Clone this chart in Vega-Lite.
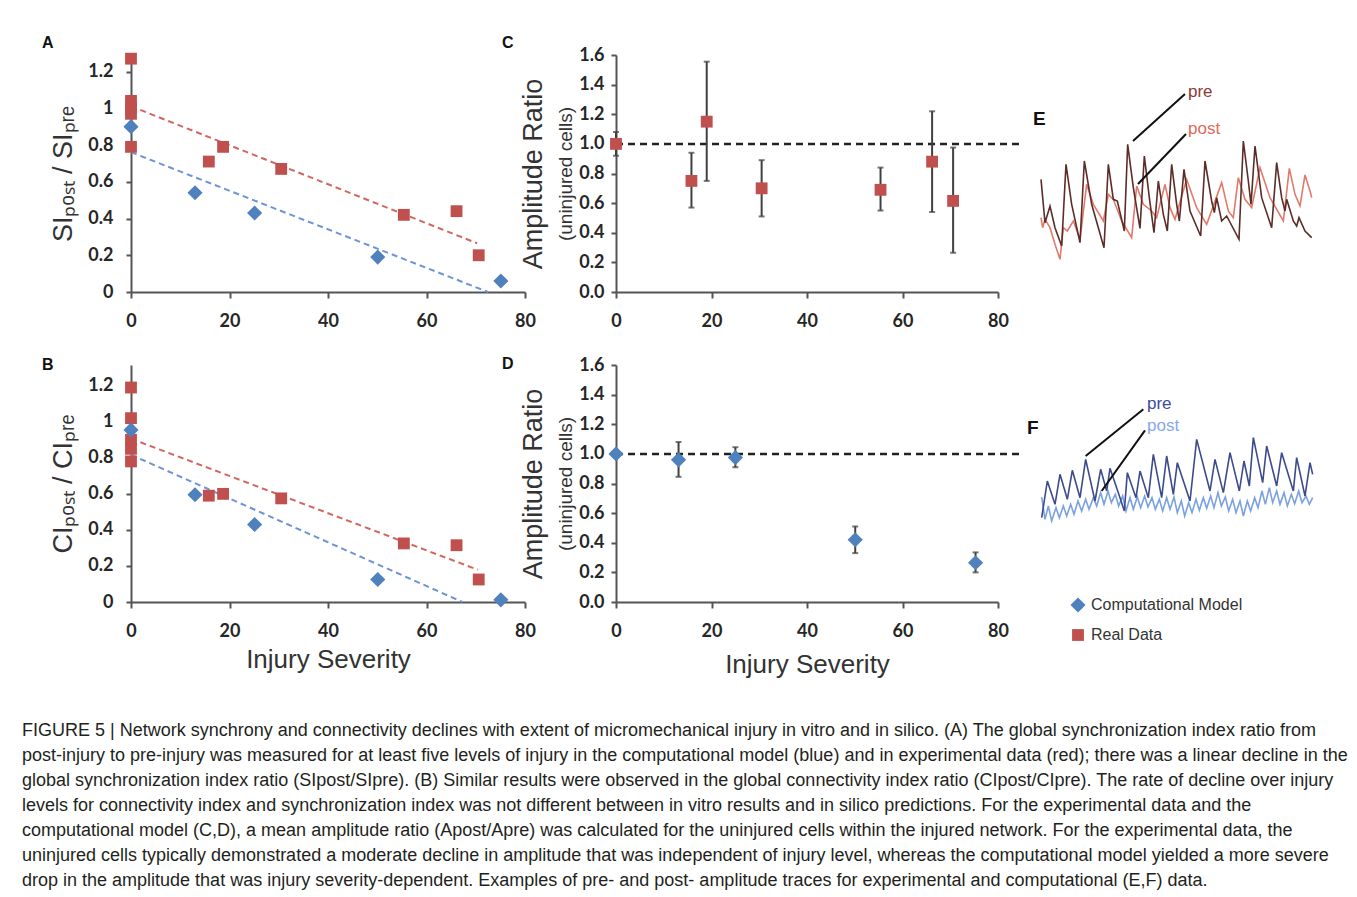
{
  "$schema": "https://vega.github.io/schema/vega-lite/v6.json",
  "background": "white",
  "padding": {"left": 22, "top": 34, "right": 5, "bottom": 5},
  "columns": 3,
  "spacing": {"row": 73, "column": 91},
  "bounds": "flush",
  "align": "each",
  "title": {
    "text": [
      "FIGURE 5 | Network synchrony and connectivity declines with extent of micromechanical injury in vitro and in silico. (A) The global synchronization index ratio from",
      "post-injury to pre-injury was measured for at least five levels of injury in the computational model (blue) and in experimental data (red); there was a linear decline in the",
      "global synchronization index ratio (SIpost/SIpre). (B) Similar results were observed in the global connectivity index ratio (CIpost/CIpre). The rate of decline over injury",
      "levels for connectivity index and synchronization index was not different between in vitro results and in silico predictions. For the experimental data and the",
      "computational model (C,D), a mean amplitude ratio (Apost/Apre) was calculated for the uninjured cells within the injured network. For the experimental data, the",
      "uninjured cells typically demonstrated a moderate decline in amplitude that was independent of injury level, whereas the computational model yielded a more severe",
      "drop in the amplitude that was injury severity-dependent. Examples of pre- and post- amplitude traces for experimental and computational (E,F) data."
    ],
    "orient": "bottom",
    "anchor": "start",
    "frame": "group",
    "dx": -109,
    "offset": 45,
    "baseline": "top",
    "font": "Liberation Sans",
    "fontSize": 18,
    "fontWeight": "normal",
    "lineHeight": 25,
    "color": "#231f20"
  },
  "datasets": {
    "si": [
      {"injury": 0, "ratio": 1.27, "series": "Real Data"},
      {"injury": 0, "ratio": 1.04, "series": "Real Data"},
      {"injury": 0, "ratio": 1.0, "series": "Real Data"},
      {"injury": 0, "ratio": 0.97, "series": "Real Data"},
      {"injury": 0, "ratio": 0.79, "series": "Real Data"},
      {"injury": 15.8, "ratio": 0.71, "series": "Real Data"},
      {"injury": 18.7, "ratio": 0.79, "series": "Real Data"},
      {"injury": 30.5, "ratio": 0.67, "series": "Real Data"},
      {"injury": 55.4, "ratio": 0.42, "series": "Real Data"},
      {"injury": 66.1, "ratio": 0.44, "series": "Real Data"},
      {"injury": 70.6, "ratio": 0.2, "series": "Real Data"},
      {"injury": 0, "ratio": 0.9, "series": "Computational Model"},
      {"injury": 13, "ratio": 0.54, "series": "Computational Model"},
      {"injury": 25.1, "ratio": 0.43, "series": "Computational Model"},
      {"injury": 50.1, "ratio": 0.19, "series": "Computational Model"},
      {"injury": 75.1, "ratio": 0.06, "series": "Computational Model"}
    ],
    "si_trend": [
      {"injury": 0, "ratio": 1.011, "series": "Real Data"},
      {"injury": 70.3, "ratio": 0.265, "series": "Real Data"},
      {"injury": 0, "ratio": 0.761, "series": "Computational Model"},
      {"injury": 72.5, "ratio": 0, "series": "Computational Model"}
    ],
    "ci": [
      {"injury": 0, "ratio": 1.19, "series": "Real Data"},
      {"injury": 0, "ratio": 1.02, "series": "Real Data"},
      {"injury": 0, "ratio": 0.9, "series": "Real Data"},
      {"injury": 0, "ratio": 0.85, "series": "Real Data"},
      {"injury": 0, "ratio": 0.78, "series": "Real Data"},
      {"injury": 15.8, "ratio": 0.59, "series": "Real Data"},
      {"injury": 18.7, "ratio": 0.6, "series": "Real Data"},
      {"injury": 30.5, "ratio": 0.575, "series": "Real Data"},
      {"injury": 55.4, "ratio": 0.325, "series": "Real Data"},
      {"injury": 66.1, "ratio": 0.315, "series": "Real Data"},
      {"injury": 70.6, "ratio": 0.125, "series": "Real Data"},
      {"injury": 0, "ratio": 0.955, "series": "Computational Model"},
      {"injury": 13, "ratio": 0.595, "series": "Computational Model"},
      {"injury": 25.1, "ratio": 0.43, "series": "Computational Model"},
      {"injury": 50.1, "ratio": 0.125, "series": "Computational Model"},
      {"injury": 75.1, "ratio": 0.012, "series": "Computational Model"}
    ],
    "ci_trend": [
      {"injury": 0, "ratio": 0.906, "series": "Real Data"},
      {"injury": 70.4, "ratio": 0.179, "series": "Real Data"},
      {"injury": 0, "ratio": 0.817, "series": "Computational Model"},
      {"injury": 67.3, "ratio": 0, "series": "Computational Model"}
    ],
    "amp_exp": [
      {"injury": 0, "ratio": 1.0, "lo": 0.92, "hi": 1.08},
      {"injury": 15.8, "ratio": 0.75, "lo": 0.57, "hi": 0.94},
      {"injury": 19, "ratio": 1.15, "lo": 0.75, "hi": 1.555},
      {"injury": 30.5, "ratio": 0.7, "lo": 0.51, "hi": 0.89},
      {"injury": 55.4, "ratio": 0.69, "lo": 0.55, "hi": 0.84},
      {"injury": 66.2, "ratio": 0.88, "lo": 0.54, "hi": 1.22},
      {"injury": 70.6, "ratio": 0.615, "lo": 0.265, "hi": 0.975}
    ],
    "amp_model": [
      {"injury": 0, "ratio": 1.0},
      {"injury": 13.1, "ratio": 0.96, "lo": 0.845, "hi": 1.08},
      {"injury": 25, "ratio": 0.975, "lo": 0.91, "hi": 1.045},
      {"injury": 50.1, "ratio": 0.42, "lo": 0.33, "hi": 0.51},
      {"injury": 75.3, "ratio": 0.265, "lo": 0.2, "hi": 0.335}
    ],
    "ref": [{"injury": 0, "injury_end": 84.5, "ratio": 1}],
    "trace_e": [
      {"t": 3.3, "amp": 3.38, "trace": "pre"}, {"t": 4.5, "amp": 2.08, "trace": "pre"}, {"t": 6.0, "amp": 2.58, "trace": "pre"},
      {"t": 7.5, "amp": 1.93, "trace": "pre"}, {"t": 9.5, "amp": 1.38, "trace": "pre"}, {"t": 10.8, "amp": 3.83, "trace": "pre"},
      {"t": 12.5, "amp": 2.63, "trace": "pre"}, {"t": 15.0, "amp": 1.48, "trace": "pre"}, {"t": 16.3, "amp": 3.93, "trace": "pre"},
      {"t": 18.5, "amp": 2.63, "trace": "pre"}, {"t": 22.2, "amp": 1.33, "trace": "pre"}, {"t": 23.5, "amp": 3.83, "trace": "pre"},
      {"t": 25.0, "amp": 2.78, "trace": "pre"}, {"t": 26.2, "amp": 2.73, "trace": "pre"}, {"t": 28.3, "amp": 1.83, "trace": "pre"},
      {"t": 29.3, "amp": 4.43, "trace": "pre"}, {"t": 31.0, "amp": 3.13, "trace": "pre"}, {"t": 33.0, "amp": 1.91, "trace": "pre"},
      {"t": 34.3, "amp": 4.08, "trace": "pre"}, {"t": 35.8, "amp": 2.83, "trace": "pre"}, {"t": 37.2, "amp": 1.78, "trace": "pre"},
      {"t": 38.5, "amp": 3.33, "trace": "pre"}, {"t": 40.0, "amp": 2.33, "trace": "pre"}, {"t": 41.2, "amp": 1.83, "trace": "pre"},
      {"t": 42.5, "amp": 3.83, "trace": "pre"}, {"t": 44.0, "amp": 2.63, "trace": "pre"}, {"t": 44.8, "amp": 2.13, "trace": "pre"},
      {"t": 46.2, "amp": 3.68, "trace": "pre"}, {"t": 48.0, "amp": 2.43, "trace": "pre"}, {"t": 51.2, "amp": 1.68, "trace": "pre"},
      {"t": 52.5, "amp": 3.93, "trace": "pre"}, {"t": 54.5, "amp": 2.73, "trace": "pre"}, {"t": 55.3, "amp": 2.38, "trace": "pre"},
      {"t": 56.0, "amp": 2.83, "trace": "pre"}, {"t": 57.5, "amp": 2.13, "trace": "pre"}, {"t": 59.0, "amp": 2.28, "trace": "pre"},
      {"t": 62.7, "amp": 1.58, "trace": "pre"}, {"t": 64.0, "amp": 4.53, "trace": "pre"}, {"t": 65.5, "amp": 3.33, "trace": "pre"},
      {"t": 66.3, "amp": 2.63, "trace": "pre"}, {"t": 67.5, "amp": 4.38, "trace": "pre"}, {"t": 69.5, "amp": 2.83, "trace": "pre"},
      {"t": 72.5, "amp": 1.93, "trace": "pre"}, {"t": 74.0, "amp": 3.88, "trace": "pre"}, {"t": 75.5, "amp": 2.83, "trace": "pre"},
      {"t": 76.5, "amp": 2.43, "trace": "pre"}, {"t": 77.0, "amp": 2.78, "trace": "pre"}, {"t": 79.0, "amp": 2.13, "trace": "pre"},
      {"t": 80.0, "amp": 1.98, "trace": "pre"}, {"t": 80.7, "amp": 2.23, "trace": "pre"}, {"t": 82.5, "amp": 1.83, "trace": "pre"},
      {"t": 84.5, "amp": 1.63, "trace": "pre"},
      {"t": 3.3, "amp": 2.23, "trace": "post"}, {"t": 3.8, "amp": 1.93, "trace": "post"}, {"t": 4.5, "amp": 2.18, "trace": "post"},
      {"t": 6.0, "amp": 1.93, "trace": "post"}, {"t": 7.5, "amp": 1.43, "trace": "post"}, {"t": 9.0, "amp": 0.98, "trace": "post"},
      {"t": 10.0, "amp": 1.93, "trace": "post"}, {"t": 11.2, "amp": 1.83, "trace": "post"}, {"t": 13.0, "amp": 2.13, "trace": "post"},
      {"t": 15.0, "amp": 1.58, "trace": "post"}, {"t": 17.0, "amp": 3.23, "trace": "post"}, {"t": 19.0, "amp": 2.63, "trace": "post"},
      {"t": 22.0, "amp": 2.13, "trace": "post"}, {"t": 23.5, "amp": 2.93, "trace": "post"}, {"t": 25.0, "amp": 2.78, "trace": "post"},
      {"t": 27.5, "amp": 2.13, "trace": "post"}, {"t": 30.5, "amp": 1.63, "trace": "post"}, {"t": 32.0, "amp": 3.18, "trace": "post"},
      {"t": 34.0, "amp": 2.63, "trace": "post"}, {"t": 36.5, "amp": 2.43, "trace": "post"}, {"t": 38.0, "amp": 2.23, "trace": "post"},
      {"t": 40.5, "amp": 3.23, "trace": "post"}, {"t": 42.0, "amp": 2.53, "trace": "post"}, {"t": 43.5, "amp": 2.18, "trace": "post"},
      {"t": 47.0, "amp": 3.38, "trace": "post"}, {"t": 50.0, "amp": 2.53, "trace": "post"}, {"t": 53.0, "amp": 2.03, "trace": "post"},
      {"t": 57.5, "amp": 3.28, "trace": "post"}, {"t": 59.5, "amp": 2.43, "trace": "post"}, {"t": 61.0, "amp": 2.23, "trace": "post"},
      {"t": 62.5, "amp": 3.43, "trace": "post"}, {"t": 64.5, "amp": 2.78, "trace": "post"}, {"t": 66.5, "amp": 2.53, "trace": "post"},
      {"t": 69.0, "amp": 3.73, "trace": "post"}, {"t": 72.0, "amp": 2.83, "trace": "post"}, {"t": 76.0, "amp": 2.13, "trace": "post"},
      {"t": 77.8, "amp": 3.71, "trace": "post"}, {"t": 79.5, "amp": 2.93, "trace": "post"}, {"t": 81.0, "amp": 2.58, "trace": "post"},
      {"t": 82.5, "amp": 3.51, "trace": "post"}, {"t": 84.0, "amp": 3.03, "trace": "post"}, {"t": 84.5, "amp": 2.83, "trace": "post"}
    ],
    "trace_f": [
      {"t": 3.5, "amp": 2.53, "trace": "pre"}, {"t": 5.2, "amp": 3.63, "trace": "pre"}, {"t": 7.5, "amp": 2.93, "trace": "pre"},
      {"t": 9.0, "amp": 3.83, "trace": "pre"}, {"t": 11.2, "amp": 3.08, "trace": "pre"}, {"t": 12.7, "amp": 3.95, "trace": "pre"},
      {"t": 15.0, "amp": 3.13, "trace": "pre"}, {"t": 16.7, "amp": 4.28, "trace": "pre"}, {"t": 19.5, "amp": 3.03, "trace": "pre"},
      {"t": 21.2, "amp": 3.98, "trace": "pre"}, {"t": 23.0, "amp": 3.33, "trace": "pre"}, {"t": 24.0, "amp": 4.01, "trace": "pre"},
      {"t": 27.0, "amp": 3.13, "trace": "pre"}, {"t": 28.3, "amp": 2.73, "trace": "pre"}, {"t": 29.2, "amp": 3.88, "trace": "pre"},
      {"t": 31.8, "amp": 3.13, "trace": "pre"}, {"t": 33.0, "amp": 3.93, "trace": "pre"}, {"t": 35.5, "amp": 3.13, "trace": "pre"},
      {"t": 37.0, "amp": 4.43, "trace": "pre"}, {"t": 39.5, "amp": 3.13, "trace": "pre"}, {"t": 41.0, "amp": 4.38, "trace": "pre"},
      {"t": 43.0, "amp": 3.23, "trace": "pre"}, {"t": 44.2, "amp": 4.18, "trace": "pre"}, {"t": 48.0, "amp": 3.03, "trace": "pre"},
      {"t": 50.0, "amp": 4.88, "trace": "pre"}, {"t": 54.0, "amp": 3.33, "trace": "pre"}, {"t": 55.5, "amp": 4.28, "trace": "pre"},
      {"t": 58.0, "amp": 3.28, "trace": "pre"}, {"t": 60.0, "amp": 4.48, "trace": "pre"}, {"t": 62.8, "amp": 3.33, "trace": "pre"},
      {"t": 64.2, "amp": 4.23, "trace": "pre"}, {"t": 65.8, "amp": 3.48, "trace": "pre"}, {"t": 67.0, "amp": 4.93, "trace": "pre"},
      {"t": 69.8, "amp": 3.58, "trace": "pre"}, {"t": 71.0, "amp": 4.68, "trace": "pre"}, {"t": 74.0, "amp": 3.48, "trace": "pre"},
      {"t": 75.5, "amp": 4.48, "trace": "pre"}, {"t": 79.0, "amp": 3.33, "trace": "pre"}, {"t": 80.0, "amp": 4.33, "trace": "pre"},
      {"t": 82.5, "amp": 3.18, "trace": "pre"}, {"t": 84.0, "amp": 4.18, "trace": "pre"}, {"t": 84.8, "amp": 3.83, "trace": "pre"},
      {"t": 3.5, "amp": 3.15, "trace": "post"}, {"t": 4.5, "amp": 2.48, "trace": "post"}, {"t": 5.5, "amp": 2.88, "trace": "post"},
      {"t": 6.5, "amp": 2.43, "trace": "post"}, {"t": 7.8, "amp": 2.83, "trace": "post"}, {"t": 8.8, "amp": 2.53, "trace": "post"},
      {"t": 10.0, "amp": 2.88, "trace": "post"}, {"t": 11.0, "amp": 2.58, "trace": "post"}, {"t": 12.2, "amp": 2.93, "trace": "post"},
      {"t": 13.2, "amp": 2.63, "trace": "post"}, {"t": 14.4, "amp": 3.03, "trace": "post"}, {"t": 15.5, "amp": 2.73, "trace": "post"},
      {"t": 16.7, "amp": 3.08, "trace": "post"}, {"t": 17.7, "amp": 2.78, "trace": "post"}, {"t": 19.0, "amp": 3.13, "trace": "post"},
      {"t": 20.0, "amp": 2.88, "trace": "post"}, {"t": 21.2, "amp": 3.28, "trace": "post"}, {"t": 22.2, "amp": 2.93, "trace": "post"},
      {"t": 23.4, "amp": 3.33, "trace": "post"}, {"t": 24.4, "amp": 2.98, "trace": "post"}, {"t": 25.6, "amp": 3.23, "trace": "post"},
      {"t": 26.6, "amp": 2.88, "trace": "post"}, {"t": 27.8, "amp": 3.18, "trace": "post"}, {"t": 28.8, "amp": 2.73, "trace": "post"},
      {"t": 30.0, "amp": 3.13, "trace": "post"}, {"t": 31.0, "amp": 2.78, "trace": "post"}, {"t": 32.2, "amp": 3.15, "trace": "post"},
      {"t": 33.2, "amp": 2.83, "trace": "post"}, {"t": 34.4, "amp": 3.18, "trace": "post"}, {"t": 35.4, "amp": 2.85, "trace": "post"},
      {"t": 36.6, "amp": 3.13, "trace": "post"}, {"t": 37.6, "amp": 2.78, "trace": "post"}, {"t": 38.8, "amp": 3.08, "trace": "post"},
      {"t": 39.8, "amp": 2.73, "trace": "post"}, {"t": 41.0, "amp": 3.13, "trace": "post"}, {"t": 42.0, "amp": 2.78, "trace": "post"},
      {"t": 43.2, "amp": 3.15, "trace": "post"}, {"t": 44.2, "amp": 2.68, "trace": "post"}, {"t": 45.4, "amp": 3.03, "trace": "post"},
      {"t": 46.4, "amp": 2.58, "trace": "post"}, {"t": 47.6, "amp": 2.98, "trace": "post"}, {"t": 48.6, "amp": 2.68, "trace": "post"},
      {"t": 49.8, "amp": 3.08, "trace": "post"}, {"t": 50.8, "amp": 2.75, "trace": "post"}, {"t": 52.0, "amp": 3.13, "trace": "post"},
      {"t": 53.0, "amp": 2.81, "trace": "post"}, {"t": 54.2, "amp": 3.18, "trace": "post"}, {"t": 55.2, "amp": 2.83, "trace": "post"},
      {"t": 56.4, "amp": 3.28, "trace": "post"}, {"t": 57.4, "amp": 2.88, "trace": "post"}, {"t": 58.6, "amp": 3.15, "trace": "post"},
      {"t": 59.6, "amp": 2.73, "trace": "post"}, {"t": 60.8, "amp": 3.08, "trace": "post"}, {"t": 61.8, "amp": 2.68, "trace": "post"},
      {"t": 63.0, "amp": 3.03, "trace": "post"}, {"t": 64.0, "amp": 2.58, "trace": "post"}, {"t": 65.2, "amp": 3.03, "trace": "post"},
      {"t": 66.2, "amp": 2.73, "trace": "post"}, {"t": 67.4, "amp": 3.13, "trace": "post"}, {"t": 68.4, "amp": 2.83, "trace": "post"},
      {"t": 69.6, "amp": 3.33, "trace": "post"}, {"t": 70.6, "amp": 2.93, "trace": "post"}, {"t": 71.8, "amp": 3.43, "trace": "post"},
      {"t": 72.8, "amp": 2.98, "trace": "post"}, {"t": 74.0, "amp": 3.33, "trace": "post"}, {"t": 75.0, "amp": 2.93, "trace": "post"},
      {"t": 76.2, "amp": 3.28, "trace": "post"}, {"t": 77.2, "amp": 2.88, "trace": "post"}, {"t": 78.4, "amp": 3.23, "trace": "post"},
      {"t": 79.4, "amp": 2.95, "trace": "post"}, {"t": 80.6, "amp": 3.33, "trace": "post"}, {"t": 81.6, "amp": 2.98, "trace": "post"},
      {"t": 82.8, "amp": 3.18, "trace": "post"}, {"t": 83.8, "amp": 2.93, "trace": "post"}, {"t": 84.8, "amp": 3.13, "trace": "post"}
    ],
    "notes_e": [
      {"t": 47.4, "amp": 6.0, "label": "pre"},
      {"t": 47.4, "amp": 4.89, "label": "post"},
      {"t": 0.9, "amp": 5.01, "label": "E"}
    ],
    "leaders_e": [
      {"t": 30.9, "amp": 4.53, "t2": 46.5, "amp2": 5.94},
      {"t": 32.4, "amp": 3.24, "t2": 46.8, "amp2": 4.74}
    ],
    "notes_f": [
      {"t": 35.1, "amp": 5.94, "label": "pre"},
      {"t": 35.1, "amp": 5.28, "label": "post"},
      {"t": -0.9, "amp": 5.04, "label": "F"}
    ],
    "leaders_f": [
      {"t": 16.7, "amp": 4.38, "t2": 34.0, "amp2": 5.78},
      {"t": 21.5, "amp": 3.33, "t2": 34.5, "amp2": 5.15}
    ]
  },
  "concat": [
    {
      "width": 394, "height": 237,
      "title": {"text": "A", "anchor": "start", "frame": "group", "dx": -89, "dy": 11, "offset": 0, "baseline": "alphabetic", "font": "Liberation Sans", "fontSize": 16, "fontWeight": "bold", "color": "#111"},
      "data": {"name": "si"},
      "encoding": {
        "x": {"field": "injury", "type": "quantitative", "scale": {"domain": [0, 80], "nice": false}, "axis": {"values": [0, 20, 40, 60, 80], "title": null, "labelPadding": 14}},
        "y": {"field": "ratio", "type": "quantitative", "scale": {"domain": [0, 1.29], "nice": false}, "axis": {"values": [0, 0.2, 0.4, 0.6, 0.8, 1, 1.2], "format": "~g", "title": "SIₚₒₛₜ / SIₚᵣₑ", "titleFontSize": 27, "labelPadding": 13, "tickSize": 5, "titlePadding": 10}}
      },
      "layer": [
        {"data": {"name": "si_trend"}, "transform": [{"filter": "datum.series === 'Real Data'"}], "mark": {"type": "line", "color": "#D0675F", "strokeDash": [6, 4], "strokeWidth": 2}},
        {"data": {"name": "si_trend"}, "transform": [{"filter": "datum.series === 'Computational Model'"}], "mark": {"type": "line", "color": "#6E94D4", "strokeDash": [6, 4], "strokeWidth": 2}},
        {"transform": [{"filter": "datum.series === 'Real Data'"}], "mark": {"type": "point", "shape": "square", "filled": true, "size": 140, "color": "#C0504D", "opacity": 1}},
        {"transform": [{"filter": "datum.series === 'Computational Model'"}], "mark": {"type": "point", "shape": "diamond", "filled": true, "size": 230, "color": "#4F81BD", "opacity": 1}}
      ]
    },
    {
      "width": 382, "height": 237,
      "title": {"text": "C", "anchor": "start", "frame": "group", "dx": -114, "dy": 18, "offset": 0, "baseline": "alphabetic", "font": "Liberation Sans", "fontSize": 16, "fontWeight": "bold", "color": "#111"},
      "resolve": {"axis": {"y": "independent"}},
      "encoding": {
        "x": {"field": "injury", "type": "quantitative", "scale": {"domain": [0, 80], "nice": false}, "axis": {"values": [0, 20, 40, 60, 80], "title": null, "labelPadding": 14}}
      },
      "layer": [
        {"data": {"name": "ref"}, "mark": {"type": "rule", "color": "#222", "strokeDash": [7, 5], "strokeWidth": 2.5},
         "encoding": {"x2": {"field": "injury_end"}, "y": {"field": "ratio", "type": "quantitative", "scale": {"domain": [0, 1.6], "nice": false}, "axis": {"orient": "left", "values": [0, 0.2, 0.4, 0.6, 0.8, 1, 1.2, 1.4, 1.6], "format": ".1f", "title": "(uninjured cells)", "titleFontSize": 19, "labelPadding": 7, "tickSize": 5, "titlePadding": 3}}}},
        {"data": {"name": "amp_exp"}, "mark": {"type": "rule", "color": "#404040", "strokeWidth": 2},
         "encoding": {"y": {"field": "lo", "type": "quantitative", "scale": {"domain": [0, 1.6], "nice": false}, "axis": {"orient": "left", "title": "Amplitude Ratio", "labels": false, "ticks": false, "domain": false, "titleFontSize": 27, "titlePadding": 69}}, "y2": {"field": "hi"}}},
        {"data": {"name": "amp_exp"}, "mark": {"type": "tick", "orient": "horizontal", "color": "#404040", "size": 6, "thickness": 2},
         "encoding": {"y": {"field": "lo", "type": "quantitative", "scale": {"domain": [0, 1.6], "nice": false}, "axis": null}}},
        {"data": {"name": "amp_exp"}, "mark": {"type": "tick", "orient": "horizontal", "color": "#404040", "size": 6, "thickness": 2},
         "encoding": {"y": {"field": "hi", "type": "quantitative", "scale": {"domain": [0, 1.6], "nice": false}, "axis": null}}},
        {"data": {"name": "amp_exp"}, "mark": {"type": "point", "shape": "square", "filled": true, "size": 140, "color": "#C0504D", "opacity": 1},
         "encoding": {"y": {"field": "ratio", "type": "quantitative", "scale": {"domain": [0, 1.6], "nice": false}, "axis": null}}}
      ]
    },
    {
      "width": 241, "height": 237,
      "encoding": {
        "x": {"field": "t", "type": "quantitative", "scale": {"domain": [17.7, 90], "nice": false, "zero": false}, "axis": null},
        "y": {"field": "amp", "type": "quantitative", "scale": {"domain": [0, 7.11], "nice": false, "zero": false}, "axis": null}
      },
      "layer": [
        {"data": {"name": "trace_e"}, "transform": [{"filter": "datum.trace === 'post'"}], "mark": {"type": "line", "color": "#E27A6B", "strokeWidth": 1.6}},
        {"data": {"name": "trace_e"}, "transform": [{"filter": "datum.trace === 'pre'"}], "mark": {"type": "line", "color": "#5C2D28", "strokeWidth": 1.6}},
        {"data": {"name": "leaders_e"}, "mark": {"type": "rule", "color": "#111", "strokeWidth": 2}, "encoding": {"x2": {"field": "t2"}, "y2": {"field": "amp2"}}},
        {"data": {"name": "notes_e"}, "transform": [{"filter": "datum.label === 'pre'"}], "mark": {"type": "text", "align": "left", "baseline": "middle", "font": "Liberation Sans", "fontSize": 17, "color": "#8E3A32"}, "encoding": {"text": {"field": "label"}}},
        {"data": {"name": "notes_e"}, "transform": [{"filter": "datum.label === 'post'"}], "mark": {"type": "text", "align": "left", "baseline": "middle", "font": "Liberation Sans", "fontSize": 17, "color": "#E06A5A"}, "encoding": {"text": {"field": "label"}}},
        {"data": {"name": "notes_e"}, "transform": [{"filter": "datum.label === 'E'"}], "mark": {"type": "text", "align": "left", "baseline": "alphabetic", "font": "Liberation Sans", "fontSize": 19, "fontWeight": "bold", "color": "#111"}, "encoding": {"text": {"field": "label"}}}
      ]
    },
    {
      "width": 394, "height": 237,
      "title": {"text": "B", "anchor": "start", "frame": "group", "dx": -89, "dy": 21, "offset": 0, "baseline": "alphabetic", "font": "Liberation Sans", "fontSize": 16, "fontWeight": "bold", "color": "#111"},
      "data": {"name": "ci"},
      "encoding": {
        "x": {"field": "injury", "type": "quantitative", "scale": {"domain": [0, 80], "nice": false}, "axis": {"values": [0, 20, 40, 60, 80], "title": "Injury Severity", "titleFontSize": 26, "titlePadding": 6, "labelPadding": 14}},
        "y": {"field": "ratio", "type": "quantitative", "scale": {"domain": [0, 1.315], "nice": false}, "axis": {"values": [0, 0.2, 0.4, 0.6, 0.8, 1, 1.2], "format": "~g", "title": "CIₚₒₛₜ / CIₚᵣₑ", "titleFontSize": 27, "labelPadding": 13, "tickSize": 5, "titlePadding": 10}}
      },
      "layer": [
        {"data": {"name": "ci_trend"}, "transform": [{"filter": "datum.series === 'Real Data'"}], "mark": {"type": "line", "color": "#D0675F", "strokeDash": [6, 4], "strokeWidth": 2}},
        {"data": {"name": "ci_trend"}, "transform": [{"filter": "datum.series === 'Computational Model'"}], "mark": {"type": "line", "color": "#6E94D4", "strokeDash": [6, 4], "strokeWidth": 2}},
        {"mark": {"type": "point", "filled": true, "opacity": 1},
         "encoding": {
           "color": {"field": "series", "type": "nominal", "scale": {"domain": ["Computational Model", "Real Data"], "range": ["#4F81BD", "#C0504D"]},
             "legend": {"title": null, "orient": "none", "legendX": 939, "legendY": 542, "padding": 0, "labelFont": "Liberation Sans", "labelFontSize": 16, "labelColor": "#333", "symbolSize": 170, "rowPadding": 14, "labelOffset": 5, "symbolStrokeWidth": 0}},
           "shape": {"field": "series", "type": "nominal", "scale": {"domain": ["Computational Model", "Real Data"], "range": ["diamond", "square"]},
             "legend": {"title": null, "orient": "none", "legendX": 939, "legendY": 542, "padding": 0, "labelFont": "Liberation Sans", "labelFontSize": 16, "labelColor": "#333", "symbolSize": 170, "rowPadding": 14, "labelOffset": 5, "symbolStrokeWidth": 0}},
           "size": {"field": "series", "type": "ordinal", "scale": {"domain": ["Computational Model", "Real Data"], "range": [230, 140]}, "legend": null}
         }}
      ]
    },
    {
      "width": 382, "height": 237,
      "title": {"text": "D", "anchor": "start", "frame": "group", "dx": -114, "dy": 29, "offset": 0, "baseline": "alphabetic", "font": "Liberation Sans", "fontSize": 16, "fontWeight": "bold", "color": "#111"},
      "resolve": {"axis": {"y": "independent"}},
      "encoding": {
        "x": {"field": "injury", "type": "quantitative", "scale": {"domain": [0, 80], "nice": false}, "axis": {"values": [0, 20, 40, 60, 80], "title": "Injury Severity", "titleFontSize": 26, "titlePadding": 11, "labelPadding": 14}}
      },
      "layer": [
        {"data": {"name": "ref"}, "mark": {"type": "rule", "color": "#222", "strokeDash": [7, 5], "strokeWidth": 2.5},
         "encoding": {"x2": {"field": "injury_end"}, "y": {"field": "ratio", "type": "quantitative", "scale": {"domain": [0, 1.6], "nice": false}, "axis": {"orient": "left", "values": [0, 0.2, 0.4, 0.6, 0.8, 1, 1.2, 1.4, 1.6], "format": ".1f", "title": "(uninjured cells)", "titleFontSize": 19, "labelPadding": 7, "tickSize": 5, "titlePadding": 3}}}},
        {"data": {"name": "amp_model"}, "mark": {"type": "rule", "color": "#404040", "strokeWidth": 2},
         "encoding": {"y": {"field": "lo", "type": "quantitative", "scale": {"domain": [0, 1.6], "nice": false}, "axis": {"orient": "left", "title": "Amplitude Ratio", "labels": false, "ticks": false, "domain": false, "titleFontSize": 27, "titlePadding": 69}}, "y2": {"field": "hi"}}},
        {"data": {"name": "amp_model"}, "mark": {"type": "tick", "orient": "horizontal", "color": "#404040", "size": 6, "thickness": 2},
         "encoding": {"y": {"field": "lo", "type": "quantitative", "scale": {"domain": [0, 1.6], "nice": false}, "axis": null}}},
        {"data": {"name": "amp_model"}, "mark": {"type": "tick", "orient": "horizontal", "color": "#404040", "size": 6, "thickness": 2},
         "encoding": {"y": {"field": "hi", "type": "quantitative", "scale": {"domain": [0, 1.6], "nice": false}, "axis": null}}},
        {"data": {"name": "amp_model"}, "mark": {"type": "point", "shape": "diamond", "filled": true, "size": 230, "color": "#4F81BD", "opacity": 1},
         "encoding": {"y": {"field": "ratio", "type": "quantitative", "scale": {"domain": [0, 1.6], "nice": false}, "axis": null}}}
      ]
    },
    {
      "width": 241, "height": 237,
      "encoding": {
        "x": {"field": "t", "type": "quantitative", "scale": {"domain": [17.7, 90], "nice": false, "zero": false}, "axis": null},
        "y": {"field": "amp", "type": "quantitative", "scale": {"domain": [0, 7.11], "nice": false, "zero": false}, "axis": null}
      },
      "layer": [
        {"data": {"name": "trace_f"}, "transform": [{"filter": "datum.trace === 'post'"}], "mark": {"type": "line", "color": "#7BA2E0", "strokeWidth": 1.6}},
        {"data": {"name": "trace_f"}, "transform": [{"filter": "datum.trace === 'pre'"}], "mark": {"type": "line", "color": "#3D4A8C", "strokeWidth": 1.6}},
        {"data": {"name": "leaders_f"}, "mark": {"type": "rule", "color": "#111", "strokeWidth": 2}, "encoding": {"x2": {"field": "t2"}, "y2": {"field": "amp2"}}},
        {"data": {"name": "notes_f"}, "transform": [{"filter": "datum.label === 'pre'"}], "mark": {"type": "text", "align": "left", "baseline": "middle", "font": "Liberation Sans", "fontSize": 17, "color": "#3B4BA0"}, "encoding": {"text": {"field": "label"}}},
        {"data": {"name": "notes_f"}, "transform": [{"filter": "datum.label === 'post'"}], "mark": {"type": "text", "align": "left", "baseline": "middle", "font": "Liberation Sans", "fontSize": 17, "color": "#86A9E4"}, "encoding": {"text": {"field": "label"}}},
        {"data": {"name": "notes_f"}, "transform": [{"filter": "datum.label === 'F'"}], "mark": {"type": "text", "align": "left", "baseline": "alphabetic", "font": "Liberation Sans", "fontSize": 19, "fontWeight": "bold", "color": "#111"}, "encoding": {"text": {"field": "label"}}}
      ]
    }
  ],
  "config": {
    "view": {"stroke": null},
    "axis": {
      "grid": false,
      "domainColor": "#555",
      "domainWidth": 2,
      "tickColor": "#555",
      "tickWidth": 2,
      "tickSize": 6,
      "labelFont": "Lato",
      "labelFontWeight": "bold",
      "labelFontSize": 18,
      "labelColor": "#262626",
      "labelFlush": false,
      "labelOverlap": false,
      "titleFont": "Liberation Sans",
      "titleFontWeight": "normal",
      "titleColor": "#333"
    }
  }
}
